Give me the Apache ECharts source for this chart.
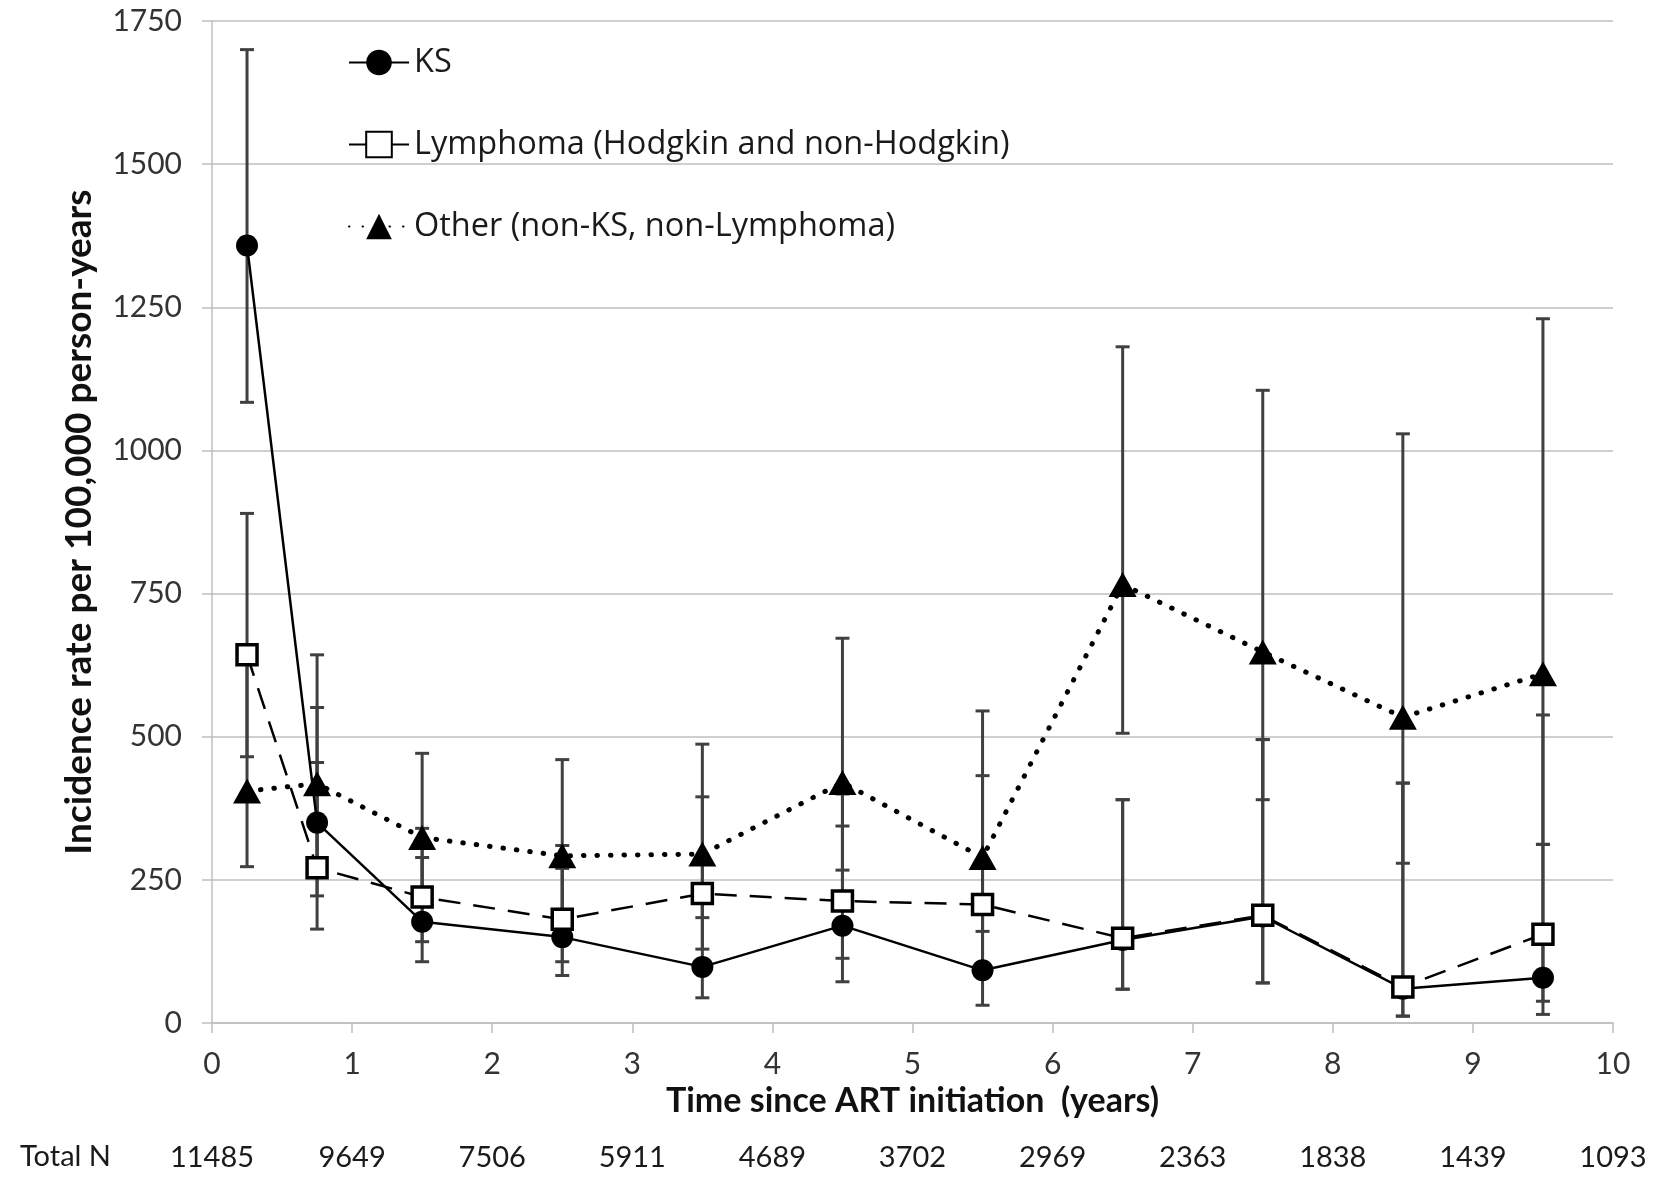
<!DOCTYPE html>
<html>
<head>
<meta charset="utf-8">
<script src="https://cdn.jsdelivr.net/npm/echarts@6/dist/echarts.min.js"></script>
<style>
html,body{margin:0;padding:0;background:#fff;}
#chart{width:1658px;height:1177px;}
</style>
</head>
<body>
<div id="chart"></div>
<script>
// ---- data ----
const years = [0.25, 0.75, 1.5, 2.5, 3.5, 4.5, 5.5, 6.5, 7.5, 8.5, 9.5];
const ks      = [1358, 350, 177, 150,  98, 170,  92, 145, 186,  60,  79];
const ksLow   = [1084, 222, 107,  83,  44,  72,  31,  59,  70,  12,  15];
const ksHigh  = [1700, 551, 289, 270, 230, 344, 210, 390, 495, 419, 312];
const lym     = [ 643, 271, 220, 181, 226, 213, 207, 148, 188,  63, 155];
const lymLow  = [ 465, 164, 142, 107, 129, 113,  92,  59,  70,  12,  38];
const lymHigh = [ 890, 455, 340, 310, 395, 400, 432, 390, 495, 419, 538];
const oth     = [ 405, 418, 324, 292, 295, 420, 289, 766, 648, 534, 610];
const othLow  = [ 273, 271, 215, 185, 184, 267, 160, 506, 390, 279, 312];
const othHigh = [ 640, 643, 471, 460, 487, 672, 545,1181,1105,1029,1230];
const xTicks  = ['0','1','2','3','4','5','6','7','8','9','10'];
const totalN  = ['11485','9649','7506','5911','4689','3702','2969','2363','1838','1439','1093'];
const yTicks  = [0, 250, 500, 750, 1000, 1250, 1500, 1750];
const names = ['KS', 'Lymphoma (Hodgkin and non-Hodgkin)', 'Other (non-KS, non-Lymphoma)'];

const FONT = 'Lato, "Open Sans", sans-serif';
const LFONT = '"Open Sans", Lato, sans-serif';

function pts(vals){ return years.map((x,i)=>[x, vals[i]]); }
function errs(lo, hi){ return years.map((x,i)=>[x, lo[i], hi[i]]); }

function errRender(params, api){
  const x = api.value(0), lo = api.value(1), hi = api.value(2);
  const a = api.coord([x, lo]), b = api.coord([x, hi]);
  const hw = 7;
  const st = {stroke:'#404040', lineWidth:3, fill:null};
  return {type:'group', children:[
    {type:'line', shape:{x1:a[0], y1:a[1], x2:b[0], y2:b[1]}, style:st},
    {type:'line', shape:{x1:a[0]-hw, y1:a[1], x2:a[0]+hw, y2:a[1]}, style:st},
    {type:'line', shape:{x1:b[0]-hw, y1:b[1], x2:b[0]+hw, y2:b[1]}, style:st}
  ]};
}

const chart = echarts.init(document.getElementById('chart'), null, {renderer:'canvas'});
const axisGray = '#bfbfbf';

const option = {
  backgroundColor:'#fff',
  animation:false,
  grid:{left:212, right:45, top:21, bottom:154},
  legend:{
    orient:'vertical', left:343, top:41, itemGap:49,
    itemWidth:60, itemHeight:32,
    textStyle:{fontSize:32.5, color:'#1a1a1a', fontFamily:LFONT},
    data:[
      {name:names[0]},
      {name:names[1], lineStyle:{type:'solid'}},
      {name:names[2]}
    ]
  },
  xAxis:[{
    type:'value', min:0, max:10, interval:1,
    axisLine:{lineStyle:{color:axisGray, width:1.5}},
    axisTick:{show:true, length:10, lineStyle:{color:axisGray, width:1.5}},
    splitLine:{show:false},
    axisLabel:{fontSize:30, color:'#333', margin:26, fontFamily:FONT,
      formatter:(v)=>xTicks[Math.round(v)]},
    name:'Time since ART initiation  (years)', nameLocation:'middle', nameGap:58,
    nameTextStyle:{fontSize:34, fontWeight:'bold', color:'#111', fontFamily:FONT}
  },{
    type:'value', min:0, max:10, interval:1, position:'bottom', offset:100,
    axisLine:{show:false}, axisTick:{show:false}, splitLine:{show:false},
    axisLabel:{fontSize:29, color:'#1a1a1a', margin:20, fontFamily:FONT,
      formatter:(v)=>totalN[Math.round(v)]}
  }],
  yAxis:{
    type:'value', min:0, max:1750, interval:250,
    axisLine:{show:true, lineStyle:{color:axisGray, width:1.5}},
    axisTick:{show:true, length:10, lineStyle:{color:axisGray, width:1.5}},
    splitLine:{show:true, lineStyle:{color:axisGray, width:1.5}},
    axisLabel:{fontSize:30, color:'#333', margin:30, fontFamily:FONT,
      formatter:(v)=> yTicks.indexOf(v) >= 0 ? String(v) : ''},
    name:'Incidence rate per 100,000 person-years', nameLocation:'middle', nameGap:114, nameRotate:90,
    nameTextStyle:{fontSize:37, fontWeight:'bold', color:'#111', fontFamily:FONT}
  },
  graphic:[{
    type:'text', left:20, top:1142,
    style:{text:'Total N', fontSize:29, fill:'#1a1a1a', fontFamily:FONT}
  }],
  series:[
    {type:'custom', name:'ksErr', renderItem:errRender, data:errs(ksLow, ksHigh), encode:{x:0, y:[1,2]}, z:1, silent:true},
    {type:'custom', name:'lymErr', renderItem:errRender, data:errs(lymLow, lymHigh), encode:{x:0, y:[1,2]}, z:1, silent:true},
    {type:'custom', name:'othErr', renderItem:errRender, data:errs(othLow, othHigh), encode:{x:0, y:[1,2]}, z:1, silent:true},
    {
      type:'line', name:names[0], data:pts(ks), z:3,
      symbol:'circle', symbolSize:22,
      lineStyle:{color:'#000', width:2.5},
      itemStyle:{color:'#000'}
    },
    {
      type:'line', name:names[1], data:pts(lym), z:4,
      symbol:'rect', symbolSize:20,
      lineStyle:{color:'#000', width:2.5, type:[22,13]},
      itemStyle:{color:'#fff', borderColor:'#000', borderWidth:3.5}
    },
    {
      type:'line', name:names[2], data:pts(oth), z:5,
      symbol:'triangle', symbolSize:[28,25],
      lineStyle:{color:'#000', width:5, type:[0.5,13], cap:'round'},
      itemStyle:{color:'#000'}
    }
  ]
};
chart.setOption(option);
</script>
</body>
</html>
